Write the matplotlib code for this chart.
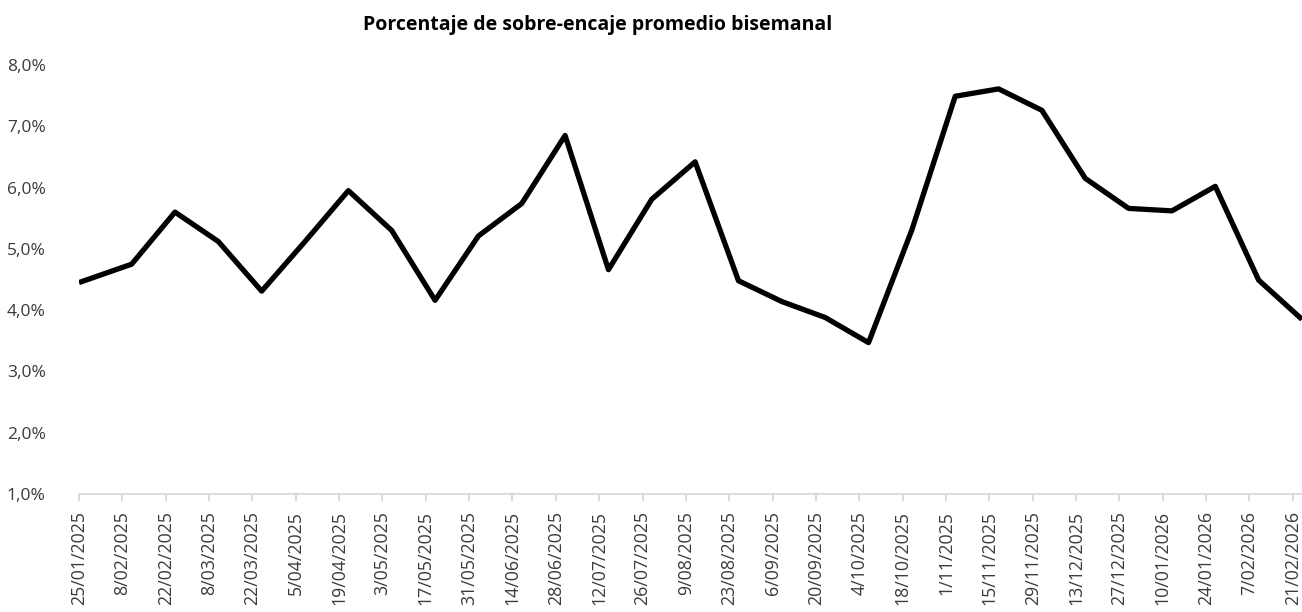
import pandas as pd
import matplotlib
matplotlib.use("Agg")
from matplotlib import pyplot as plt
from matplotlib.ticker import FuncFormatter

# biweekly average excess-reserve percentage
fechas = ["25/01/2025", "11/02/2025", "25/02/2025", "11/03/2025", "25/03/2025",
          "8/04/2025", "22/04/2025", "6/05/2025", "20/05/2025", "3/06/2025",
          "17/06/2025", "1/07/2025", "15/07/2025", "29/07/2025", "12/08/2025",
          "26/08/2025", "9/09/2025", "23/09/2025", "7/10/2025", "21/10/2025",
          "4/11/2025", "18/11/2025", "2/12/2025", "16/12/2025", "30/12/2025",
          "13/01/2026", "27/01/2026", "10/02/2026", "24/02/2026"]
sobre_encaje = [4.45, 4.75, 5.60, 5.12, 4.31, 5.12, 5.95, 5.30, 4.16, 5.21,
                5.74, 6.85, 4.66, 5.81, 6.42, 4.48, 4.14, 3.88, 3.47, 5.31,
                7.49, 7.61, 7.26, 6.15, 5.66, 5.62, 6.02, 4.49, 3.85]

tick_start = "2025-01-25"
tick_count = 29

plt.rcParams["font.family"] = ["Open Sans", "DejaVu Sans"]

dates = pd.to_datetime(fechas, dayfirst=True)
ticks = pd.date_range(tick_start, periods=tick_count, freq="14D")

fig = plt.figure(figsize=(13.02, 6.12), dpi=100)
ax = fig.add_axes([79 / 1302, 1 - 494 / 612, 1 - 79 / 1302, (494 - 65) / 612])

ax.plot(dates, sobre_encaje, color="black", linewidth=3.8,
        solid_joinstyle="round", solid_capstyle="butt")

ax.set_xlim(dates[0], dates[-1])
ax.set_ylim(1, 8)
ax.set_yticks(range(1, 9))
ax.yaxis.set_major_formatter(FuncFormatter(lambda v, _: f"{v:.1f}%".replace(".", ",")))

ax.set_xticks(ticks)
ax.set_xticklabels([f"{d.day}/{d.month:02d}/{d.year}" for d in ticks],
                   rotation=90, va="top", ha="center")

for side in ("top", "right", "left"):
    ax.spines[side].set_visible(False)
ax.spines["bottom"].set_color("#d9d9d9")
ax.spines["bottom"].set_linewidth(1.3)

ax.tick_params(axis="x", direction="out", length=5, width=1.3, color="#d9d9d9",
               labelsize=12.8, labelcolor="#3a3a3a", pad=7)
ax.tick_params(axis="y", length=0, labelsize=12.5, labelcolor="#3a3a3a", pad=24)

fig.text(598 / 1302, 1 - 25 / 612, "Porcentaje de sobre-encaje promedio bisemanal",
         ha="center", va="center", fontsize=14, fontweight="bold", color="black")

fig.savefig("out.png", dpi=100)
